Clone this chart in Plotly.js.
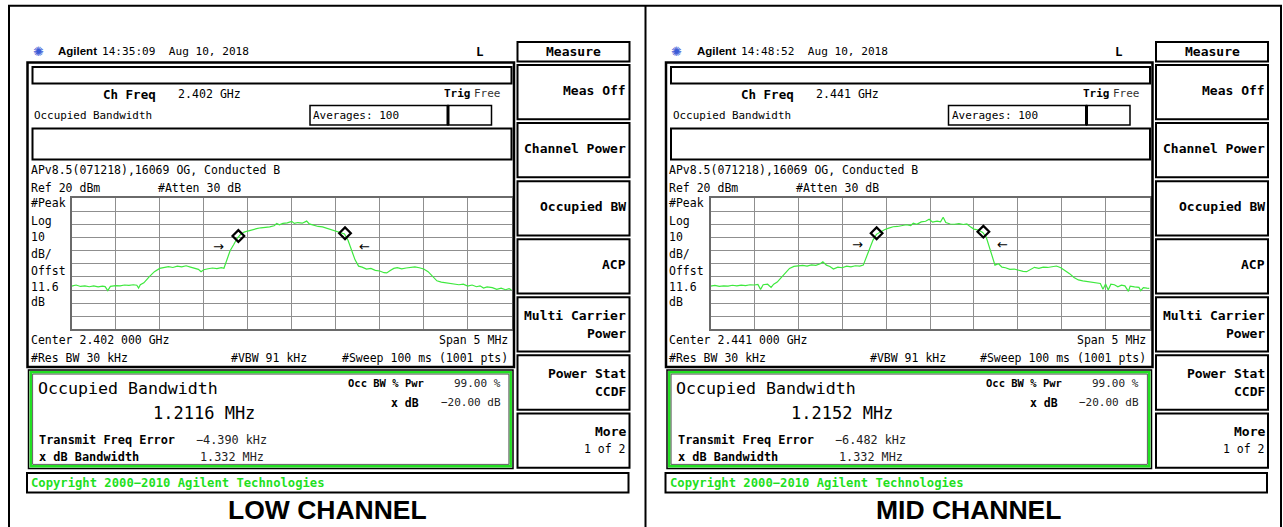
<!DOCTYPE html>
<html>
<head>
<meta charset="utf-8">
<script src="https://cdn.plot.ly/plotly-3.0.1.min.js"></script>
<style>html,body{margin:0;padding:0;background:#fff;}#chart{width:1283px;height:527px;}</style>
</head>
<body>
<div id="chart"></div>
<script>
// ---------------- DATA ----------------
const channelNames = ["LOW CHANNEL", "MID CHANNEL"];
const timestamps = ["14:35:09  Aug 10, 2018", "14:48:52  Aug 10, 2018"];
const chFreqLabels = ["2.402 GHz", "2.441 GHz"];
const centerLabels = ["Center 2.402 000 GHz", "Center 2.441 000 GHz"];
const obwValues = ["1.2116 MHz", "1.2152 MHz"];
const freqErrors = ["\u22124.390 kHz", "\u22126.482 kHz"];
const xdbBandwidths = ["1.332 MHz", "1.332 MHz"];
const softkeys = [["Meas Off"], ["Channel Power"], ["Occupied BW"], ["ACP"], ["Multi Carrier", "Power"], ["Power Stat", "CCDF"], ["More", "1 of 2"]];

// frequency offset from center (MHz) and level (dBm)
const freqLow = [-2.50,-2.45,-2.40,-2.35,-2.30,-2.25,-2.20,-2.15,-2.12,-2.09,-2.06,-2.00,-1.95,-1.90,-1.85,-1.80,-1.76,-1.74,-1.72,-1.68,-1.62,-1.56,-1.50,-1.45,-1.40,-1.35,-1.30,-1.25,-1.20,-1.15,-1.10,-1.06,-1.03,-1.00,-0.95,-0.90,-0.85,-0.80,-0.77,-0.74,-0.70,-0.66,-0.62,-0.58,-0.54,-0.50,-0.45,-0.40,-0.35,-0.30,-0.25,-0.20,-0.17,-0.14,-0.10,-0.05,0.00,0.03,0.07,0.12,0.17,0.20,0.25,0.30,0.35,0.40,0.45,0.50,0.55,0.60,0.64,0.68,0.72,0.76,0.80,0.85,0.90,0.95,1.00,1.05,1.08,1.12,1.16,1.20,1.25,1.30,1.35,1.40,1.45,1.50,1.55,1.60,1.65,1.70,1.75,1.80,1.85,1.90,1.95,2.00,2.05,2.10,2.14,2.18,2.22,2.28,2.33,2.38,2.43,2.47,2.50];
const levelLow = [-47.0,-46.2,-47.3,-46.8,-47.5,-46.9,-47.6,-47.0,-47.4,-50.5,-47.2,-46.6,-46.9,-46.2,-46.5,-46.0,-46.4,-48.5,-46.0,-44.5,-40.0,-36.0,-33.5,-33.0,-32.2,-32.8,-31.8,-32.4,-31.5,-32.5,-33.6,-34.2,-36.0,-34.5,-33.8,-33.2,-33.6,-33.0,-33.4,-28.0,-20.0,-15.5,-10.5,-7.5,-5.8,-5.0,-3.8,-3.2,-2.5,-2.4,-1.8,-1.0,0.8,-0.2,0.8,1.2,2.4,0.8,1.5,1.0,2.6,0.5,-0.8,-1.5,-1.8,-3.0,-4.0,-5.0,-6.0,-7.2,-12.0,-20.0,-27.0,-31.8,-32.5,-34.0,-33.5,-35.0,-35.5,-36.8,-37.0,-35.2,-33.5,-33.0,-33.8,-33.2,-32.8,-32.3,-33.0,-34.0,-36.0,-39.5,-43.0,-44.0,-44.5,-45.0,-45.6,-46.0,-45.5,-47.0,-46.2,-47.5,-46.8,-48.5,-47.6,-48.2,-49.5,-48.6,-49.8,-49.0,-50.0];

const freqMid = [-2.50,-2.45,-2.40,-2.35,-2.30,-2.25,-2.20,-2.15,-2.10,-2.05,-2.00,-1.96,-1.93,-1.90,-1.85,-1.81,-1.78,-1.74,-1.70,-1.65,-1.60,-1.55,-1.50,-1.45,-1.40,-1.35,-1.30,-1.25,-1.22,-1.18,-1.14,-1.10,-1.05,-1.00,-0.95,-0.90,-0.85,-0.80,-0.76,-0.73,-0.69,-0.65,-0.61,-0.57,-0.52,-0.47,-0.42,-0.37,-0.32,-0.27,-0.22,-0.19,-0.15,-0.10,-0.05,-0.01,0.03,0.08,0.12,0.15,0.18,0.23,0.28,0.33,0.38,0.42,0.46,0.50,0.55,0.60,0.64,0.68,0.71,0.74,0.78,0.82,0.86,0.91,0.96,1.01,1.06,1.10,1.14,1.19,1.24,1.29,1.34,1.39,1.44,1.49,1.54,1.59,1.64,1.69,1.74,1.79,1.84,1.89,1.94,1.97,2.00,2.03,2.06,2.10,2.14,2.18,2.22,2.26,2.28,2.33,2.38,2.40,2.43,2.47,2.50];
const levelMid = [-47.0,-46.5,-47.2,-46.8,-47.0,-46.4,-46.9,-46.3,-46.6,-46.0,-46.2,-45.8,-49.5,-46.0,-45.6,-48.0,-45.5,-44.0,-41.0,-37.0,-33.5,-32.0,-31.5,-31.2,-31.8,-30.8,-31.2,-30.0,-28.5,-31.0,-32.0,-34.0,-32.5,-33.0,-31.8,-32.4,-31.5,-31.8,-31.0,-26.0,-19.5,-12.0,-7.5,-6.0,-4.0,-2.8,-1.7,-1.5,-0.8,-0.2,-0.8,1.0,0.2,2.0,2.5,4.0,1.8,2.5,2.0,5.5,1.5,0.4,0.2,0.6,0.0,0.4,-1.8,-3.5,-4.2,-6.0,-9.5,-18.0,-25.0,-31.0,-30.0,-32.5,-33.0,-34.2,-34.0,-35.0,-35.8,-36.0,-34.5,-32.7,-33.5,-32.5,-32.8,-32.0,-31.7,-33.0,-35.0,-37.5,-40.5,-42.3,-43.0,-43.5,-44.0,-44.3,-45.0,-49.5,-45.4,-50.0,-45.6,-46.0,-47.5,-46.3,-46.8,-51.0,-47.0,-47.6,-48.0,-50.5,-48.2,-48.6,-48.7];

// occupied-bandwidth edge markers
const markerFreqLow = [-0.606, 0.606];
const markerLevelLow = [-8.8, -6.7];
const markerFreqMid = [-0.608, 0.608];
const markerLevelMid = [-6.7, -5.5];
// x dB bandwidth arrows (freq offset, level)
const arrowFreq = [-0.83, 0.83];
const arrowLevelLow = -17;
const arrowLevelMid = -15;

// ---------------- LAYOUT HELPERS ----------------
const W = 1283, H = 527;
const X = p => p / W;
const Y = p => 1 - p / H;
const MONO = "DejaVu Sans Mono";
const SANS = "Liberation Sans, Arial, sans-serif";
const shapes = [];
const annotations = [];

function rect(x0, y0, x1, y1, color, w) {
  shapes.push({type: 'rect', xref: 'paper', yref: 'paper', x0: X(x0), x1: X(x1), y0: Y(y1), y1: Y(y0),
    line: {color: color, width: w}, fillcolor: 'rgba(0,0,0,0)', layer: 'above'});
}
function seg(x0, y0, x1, y1, color, w) {
  shapes.push({type: 'line', xref: 'paper', yref: 'paper', x0: X(x0), x1: X(x1), y0: Y(y0), y1: Y(y1),
    line: {color: color, width: w}, layer: 'above'});
}
function txt(x, y, text, size, o) {
  o = o || {};
  annotations.push({xref: 'paper', yref: 'paper', x: X(x), y: Y(y), text: text, showarrow: false,
    xanchor: o.anchor || 'left', yanchor: 'middle', borderpad: 0,
    font: {family: o.family || MONO, size: size, color: o.color || '#000', weight: o.bold ? 'bold' : 'normal'}});
}

// outer frame + divider
rect(9, 5.8, 1281, 540, '#000', 2);
seg(645.5, 5, 645.5, 540, '#000', 2);

const offsets = [0, 638.5];
const titleCenters = [327.5, 968.5];

offsets.forEach((d, i) => {
  // header
  txt(38 + d, 51, "\u273A", 13, {anchor: 'center', color: '#3b5bd6', family: 'DejaVu Sans'});
  txt(57 + d, 51, "Agilent", 11.5, {bold: true, family: SANS});
  txt(101 + d, 51, timestamps[i], 11.1);
  txt(480 + d, 51.5, "L", 12.5, {bold: true, anchor: 'center'});

  // screen frame
  rect(27.5 + d, 62.5, 514 + d, 367, '#000', 2.5);
  rect(32.5 + d, 67, 511.5 + d, 83.5, '#000', 2);
  txt(101.7 + d, 94.3, "Ch Freq", 12.5, {bold: true});
  txt(176.7 + d, 94.3, chFreqLabels[i], 11.6);
  txt(443 + d, 94, "Trig", 11, {bold: true});
  txt(473 + d, 94, "Free", 11, {color: '#333'});
  txt(33 + d, 116, "Occupied Bandwidth", 10.9);
  rect(310 + d, 105.5, 448 + d, 125, '#000', 1.5);
  rect(448 + d, 105.5, 491.5 + d, 125, '#000', 1.5);
  seg(448 + d, 105.5, 448 + d, 125, '#000', 3);
  txt(312 + d, 115.5, "Averages: 100", 11);
  rect(32.5 + d, 128.5, 511.5 + d, 159.5, '#000', 2);
  txt(29.5 + d, 170, "APv8.5(071218),16069 OG, Conducted B", 11.5);
  txt(29.5 + d, 187.7, "Ref 20 dBm", 11.5);
  txt(156.7 + d, 187.7, "#Atten 30 dB", 11.5);
  [["#Peak", 203.3], ["Log", 220.7], ["10", 237.3], ["dB/", 254], ["Offst", 270.7], ["11.6", 286.7], ["dB", 301.7]]
    .forEach(([t, y]) => txt(29.5 + d, y, t, 11.5));
  txt(29.5 + d, 340, centerLabels[i], 11.5);
  txt(508.5 + d, 340, "Span 5 MHz", 11.5, {anchor: 'right'});
  txt(29.5 + d, 357.7, "#Res BW 30 kHz", 11.5);
  txt(230 + d, 357.7, "#VBW 91 kHz", 11.5);
  txt(508.5 + d, 357.7, "#Sweep 100 ms (1001 pts)", 11.5, {anchor: 'right'});

  // results box
  rect(28.5 + d, 370, 513 + d, 468.5, '#000', 1.5);
  rect(30.8 + d, 372.3, 510.7 + d, 466.2, '#22e022', 2.5);
  rect(32.6 + d, 374.1, 508.9 + d, 464.4, '#333', 0.8);
  txt(36.5 + d, 388.3, "Occupied Bandwidth", 16.6);
  txt(151.7 + d, 412.7, obwValues[i], 17);
  txt(346.7 + d, 383.3, "Occ BW % Pwr", 10.5, {bold: true});
  txt(501.7 + d, 383.3, "99.00 %", 11, {anchor: 'right', color: '#222'});
  txt(420 + d, 402.7, "x dB", 11.5, {bold: true, anchor: 'right'});
  txt(501.7 + d, 402.7, "\u221220.00 dB", 11, {anchor: 'right', color: '#222'});
  txt(38.3 + d, 440, "Transmit Freq Error", 11.9, {bold: true});
  txt(195 + d, 440, freqErrors[i], 11.8, {color: '#222'});
  txt(38.3 + d, 456.7, "x dB Bandwidth", 11.9, {bold: true});
  txt(199 + d, 456.7, xdbBandwidths[i], 11.8, {color: '#222'});

  // copyright
  rect(27 + d, 473, 628.5 + d, 492.5, '#000', 2);
  txt(30 + d, 482.7, "Copyright 2000\u22122010 Agilent Technologies", 12.2, {bold: true, color: '#1fe01f'});

  // softkeys
  rect(517.5 + d, 42, 629.5 + d, 61.5, '#000', 2);
  txt(573.5 + d, 51.7, "Measure", 13, {bold: true, anchor: 'center'});
  softkeys.forEach((lines, k) => {
    const top = 65 + k * 58.07;
    rect(517.5 + d, top, 629.5 + d, top + 54.3, '#000', 2);
    if (lines.length === 1) {
      txt(627 + d, top + 25.5, lines[0], 13, {bold: true, anchor: 'right'});
    } else {
      txt(627 + d, top + 18, lines[0], 13, {bold: true, anchor: 'right'});
      txt(627 + d, top + 36, lines[1], k === 6 ? 11.5 : 13, {bold: k !== 6, anchor: 'right'});
    }
  });

  // channel title
  txt(titleCenters[i], 509.5, channelNames[i], 26.5, {bold: true, anchor: 'center', family: SANS});
});

// arrows in data coords
const arrowSets = [[arrowLevelLow, 'x', 'y'], [arrowLevelMid, 'x2', 'y2']];
arrowSets.forEach(([lvl, xr, yr]) => {
  ["\u2192", "\u2190"].forEach((ch, j) => {
    annotations.push({xref: xr, yref: yr, x: arrowFreq[j], y: lvl, text: ch, showarrow: false,
      xanchor: 'center', yanchor: 'middle', font: {family: 'DejaVu Sans', size: 13, color: '#000'}});
  });
});

function axX(domainPx) {
  return {domain: [X(domainPx[0]), X(domainPx[1])], range: [-2.5, 2.5], tick0: -2.5, dtick: 0.5,
    showgrid: true, gridcolor: '#8f8f8f', gridwidth: 1, zeroline: false, showticklabels: false, ticks: '',
    showline: true, mirror: true, linecolor: '#6a6a6a', linewidth: 2, fixedrange: true};
}
function axY(anchor) {
  return {domain: [Y(329.3), Y(198.3)], range: [-80, 20], tick0: -80, dtick: 10, anchor: anchor,
    showgrid: true, gridcolor: '#8f8f8f', gridwidth: 1, zeroline: false, showticklabels: false, ticks: '',
    showline: true, mirror: true, linecolor: '#6a6a6a', linewidth: 2, fixedrange: true};
}

const traceStyle = {mode: 'lines', line: {color: '#3ee83e', width: 1.2}, hoverinfo: 'skip', showlegend: false};
const markStyle = {mode: 'markers', marker: {symbol: 'diamond-open', size: 9, color: '#000', line: {width: 2.2, color: '#000'}}, hoverinfo: 'skip', showlegend: false};

const data = [
  Object.assign({x: freqLow, y: levelLow, xaxis: 'x', yaxis: 'y'}, traceStyle),
  Object.assign({x: markerFreqLow, y: markerLevelLow, xaxis: 'x', yaxis: 'y'}, markStyle),
  Object.assign({x: freqMid, y: levelMid, xaxis: 'x2', yaxis: 'y2'}, traceStyle),
  Object.assign({x: markerFreqMid, y: markerLevelMid, xaxis: 'x2', yaxis: 'y2'}, markStyle)
];

const layout = {
  width: W, height: H, margin: {l: 0, r: 0, t: 0, b: 0},
  paper_bgcolor: '#fff', plot_bgcolor: '#fff', showlegend: false,
  xaxis: axX([71.7, 511.7]), yaxis: axY('x'),
  xaxis2: Object.assign(axX([710.5, 1149.5]), {anchor: 'y2'}), yaxis2: axY('x2'),
  shapes: shapes, annotations: annotations
};

Plotly.newPlot('chart', data, layout, {displayModeBar: false, staticPlot: true});
</script>
</body>
</html>
